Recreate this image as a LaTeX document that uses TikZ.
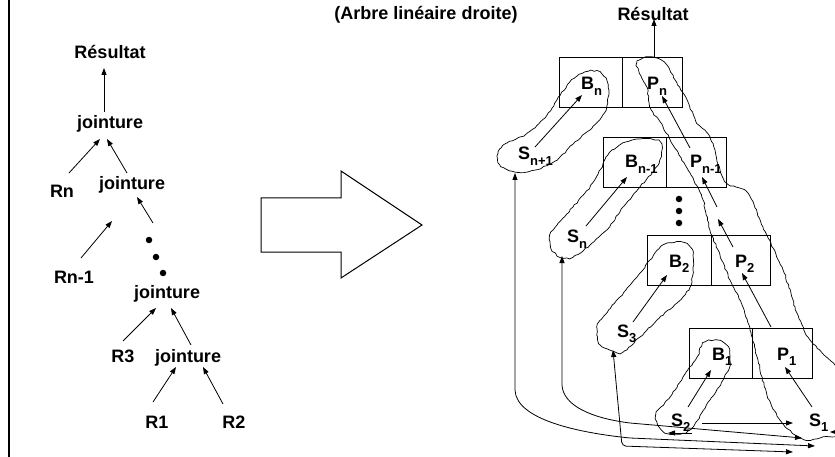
\documentclass[tikz,border=0pt]{standalone}
\usepackage{fontspec}
\setmainfont{Liberation Sans}
\usetikzlibrary{arrows.meta,decorations.pathmorphing}
\newcommand\sbs[1]{\raisebox{-0.33em}{\fontsize{13}{13}\selectfont #1}}
\pgfmathsetseed{7}
\begin{document}
\begin{tikzpicture}[x=1pt,y=-1pt,
 lbl/.style={font=\fontsize{18}{20}\selectfont\bfseries, inner sep=0pt},
 arr/.style={-{Triangle[length=7pt,width=5pt]}, line width=0.8pt},
 darr/.style={{Triangle[length=7pt,width=5pt]}-{Triangle[length=7pt,width=5pt]}, line width=0.8pt},
 cell/.style={draw, line width=0.9pt, minimum height=50pt, inner sep=0pt},
 blob/.style={draw, line width=0.7pt, decorate, decoration={random steps, segment length=3pt, amplitude=0.7pt}},
 dot/.style={fill, circle, inner sep=0pt, minimum size=6.5pt}]
\useasboundingbox (0,0) rectangle (835,457);
\clip (0,0) rectangle (835,457);
\fill[white] (0,0) rectangle (835,457);

% left border line
\coordinate (lt) at (9,0); \coordinate (lb) at (9,457);
\draw[line width=2pt] (lt) -- (lb);

% ---------- left tree ----------
\node[lbl, anchor=base] (res1) at (110,59) {Résultat};
\node[lbl, anchor=base] (j1) at (110,129) {jointure};
\node[lbl, anchor=base] (rn) at (62,198) {Rn};
\node[lbl, anchor=base] (j2) at (132,190) {jointure};
\node[lbl, anchor=base] (rn1) at (74,283) {Rn-1};
\node[lbl, anchor=base] (j3) at (167,298) {jointure};
\node[lbl, anchor=base] (r3) at (123,362) {R3};
\node[lbl, anchor=base] (j4) at (188,362) {jointure};
\node[lbl, anchor=base] (r1) at (157,428) {R1};
\node[lbl, anchor=base] (r2) at (234,428) {R2};
\node[dot] (ld1) at (149,240) {};
\node[dot] (ld2) at (156,257) {};
\node[dot] (ld3) at (163,273) {};

\coordinate (a1s) at (104,112); \coordinate (a1e) at (104,68);
\coordinate (a2s) at (69,173);  \coordinate (a2e) at (100,139);
\coordinate (a3s) at (127,173); \coordinate (a3e) at (107,139);
\coordinate (a4s) at (81,258);  \coordinate (a4e) at (112,221);
\coordinate (a5s) at (153,223); \coordinate (a5e) at (137,197);
\coordinate (a6s) at (123,341); \coordinate (a6e) at (156,308);
\coordinate (a7s) at (191,345); \coordinate (a7e) at (171,308);
\coordinate (a8s) at (153,402); \coordinate (a8e) at (176,367);
\coordinate (a9s) at (223,404); \coordinate (a9e) at (203,367);
\foreach \i in {1,...,9} {\draw[arr] (a\i s) -- (a\i e);}

% ---------- big arrow ----------
\draw[line width=1pt] (261,198) -- (341,198) -- (341,171) -- (422,225) -- (341,278) -- (341,252) -- (261,252) -- cycle;

% ---------- right part ----------
\node[lbl, anchor=base] (title) at (426,20) {(Arbre linéaire droite)};
\node[lbl, anchor=base] (res2) at (653,21) {Résultat};

% boxes
\node[cell, minimum width=63pt] (bnL) at (590.5,82) {};
\node[cell, minimum width=60pt] (bnR) at (652,82) {};
\node[cell, minimum width=63pt] (bmL) at (634.5,162) {};
\node[cell, minimum width=60pt] (bmR) at (696,162) {};
\node[cell, minimum width=64pt] (b2L) at (679,260) {};
\node[cell, minimum width=59pt] (b2R) at (740.5,260) {};
\node[cell, minimum width=63pt] (b1L) at (720.5,353.5) {};
\node[cell, minimum width=60pt] (b1R) at (782,353.5) {};

\coordinate (rtop) at (654,19);
\draw[arr] (bnR.north -| rtop) -- (rtop);

% blobs
\draw[blob] plot[smooth cycle] coordinates {(498,152) (507,143) (525,135) (545,118) (557,100) (570,82) (585,72) (600,72) (608,85) (606,110) (592,128) (575,142) (557,160) (535,170) (515,172) (500,165)};
\draw[blob] plot[smooth cycle] coordinates {(623,143) (640,139) (660,142) (659,163) (640,187) (623,207) (613,222) (603,233) (590,245) (573,257) (560,257) (551,248) (550,235) (557,225) (573,207) (590,187) (600,170) (608,155)};
\draw[blob] plot[smooth cycle] coordinates {(663,245) (682,242) (692,250) (693,270) (690,287) (677,303) (657,320) (640,337) (623,352) (610,350) (599,343) (597,327) (603,317) (620,297) (637,277) (650,260)};
\draw[blob] plot[smooth cycle] coordinates {(703,343) (717,340) (728,347) (730,363) (723,380) (710,400) (693,427) (683,433) (665,433) (657,422) (657,412) (670,397) (683,377) (697,357)};
\draw[blob] plot[smooth cycle] coordinates {(649,57) (637,62) (641,76) (647,88) (650,107) (663,127) (673,145) (690,173) (703,200) (710,230) (720,255) (730,280) (742,305) (750,330) (758,360) (767,395) (780,420) (795,435) (805,440) (820,438) (845,432) (865,400) (835,365) (810,340) (797,313) (783,270) (763,227) (747,192) (725,181) (710,137) (697,123) (687,100) (677,83) (664,62)};

% labels
\node[lbl, anchor=base west] (bn) at (581,90) {B\sbs{n}};
\node[lbl, anchor=base west] (pn) at (647,90) {P\sbs{n}};
\node[lbl, anchor=base west] (snp1) at (518,160) {S\sbs{n+1}};
\node[lbl, anchor=base west] (bm) at (625,168) {B\sbs{n-1}};
\node[lbl, anchor=base west] (pm) at (690,168) {P\sbs{n-1}};
\node[lbl, anchor=base west] (sn) at (567,243) {S\sbs{n}};
\node[lbl, anchor=base west] (b2) at (669,267) {B\sbs{2}};
\node[lbl, anchor=base west] (p2) at (735,267) {P\sbs{2}};
\node[lbl, anchor=base west] (s3) at (617,337) {S\sbs{3}};
\node[lbl, anchor=base west] (b1) at (712,360) {B\sbs{1}};
\node[lbl, anchor=base west] (p1) at (777,360) {P\sbs{1}};
\node[lbl, anchor=base west] (s2) at (671,426) {S\sbs{2}};
\node[lbl, anchor=base west] (s1) at (809,426) {S\sbs{1}};

\node[dot] (rd1) at (679,199) {};
\node[dot] (rd2) at (679,211) {};
\node[dot] (rd3) at (679,223) {};

% inner arrows
\coordinate (c1s) at (535,147); \coordinate (c1e) at (582,95);
\coordinate (c2s) at (690,148); \coordinate (c2e) at (662,96);
\coordinate (c3s) at (586,226); \coordinate (c3e) at (627,177);
\coordinate (c4s) at (717,207); \coordinate (c4e) at (702,177);
\coordinate (c5s) at (733,247); \coordinate (c5e) at (718,219);
\coordinate (c6s) at (633,322); \coordinate (c6e) at (667,275);
\coordinate (c7s) at (771,327); \coordinate (c7e) at (742,273);
\coordinate (c8s) at (688,407); \coordinate (c8e) at (711,370);
\coordinate (c9s) at (812,407); \coordinate (c9e) at (785,367);
\coordinate (c10s) at (702,423); \coordinate (c10e) at (793,423);
\foreach \i in {1,...,10} {\draw[arr] (c\i s) -- (c\i e);}

% long return lines
\coordinate (ta) at (515,173); \coordinate (ea) at (815,446);
\coordinate (tb) at (562,256); \coordinate (eb) at (802,438);
\coordinate (tc) at (613,350); \coordinate (ec) at (793,452);
\draw[darr] (ta) -- (515,390) .. controls (516,420) and (580,433) .. (630,438) -- (ea);
\draw[darr] (tb) -- (562,385) .. controls (563,405) and (590,418) .. (630,423) -- (eb);
\draw[darr, rounded corners=4pt] (tc) -- (622,446) -- (ec);
\coordinate (ts2) at (668,433); \coordinate (ss2) at (692,433);
\draw[arr] (ss2) -- (ts2);
\coordinate (ts1) at (830,432); \coordinate (ss1) at (840,432);
\draw[arr] (ss1) -- (ts1);
\end{tikzpicture}
\end{document}
